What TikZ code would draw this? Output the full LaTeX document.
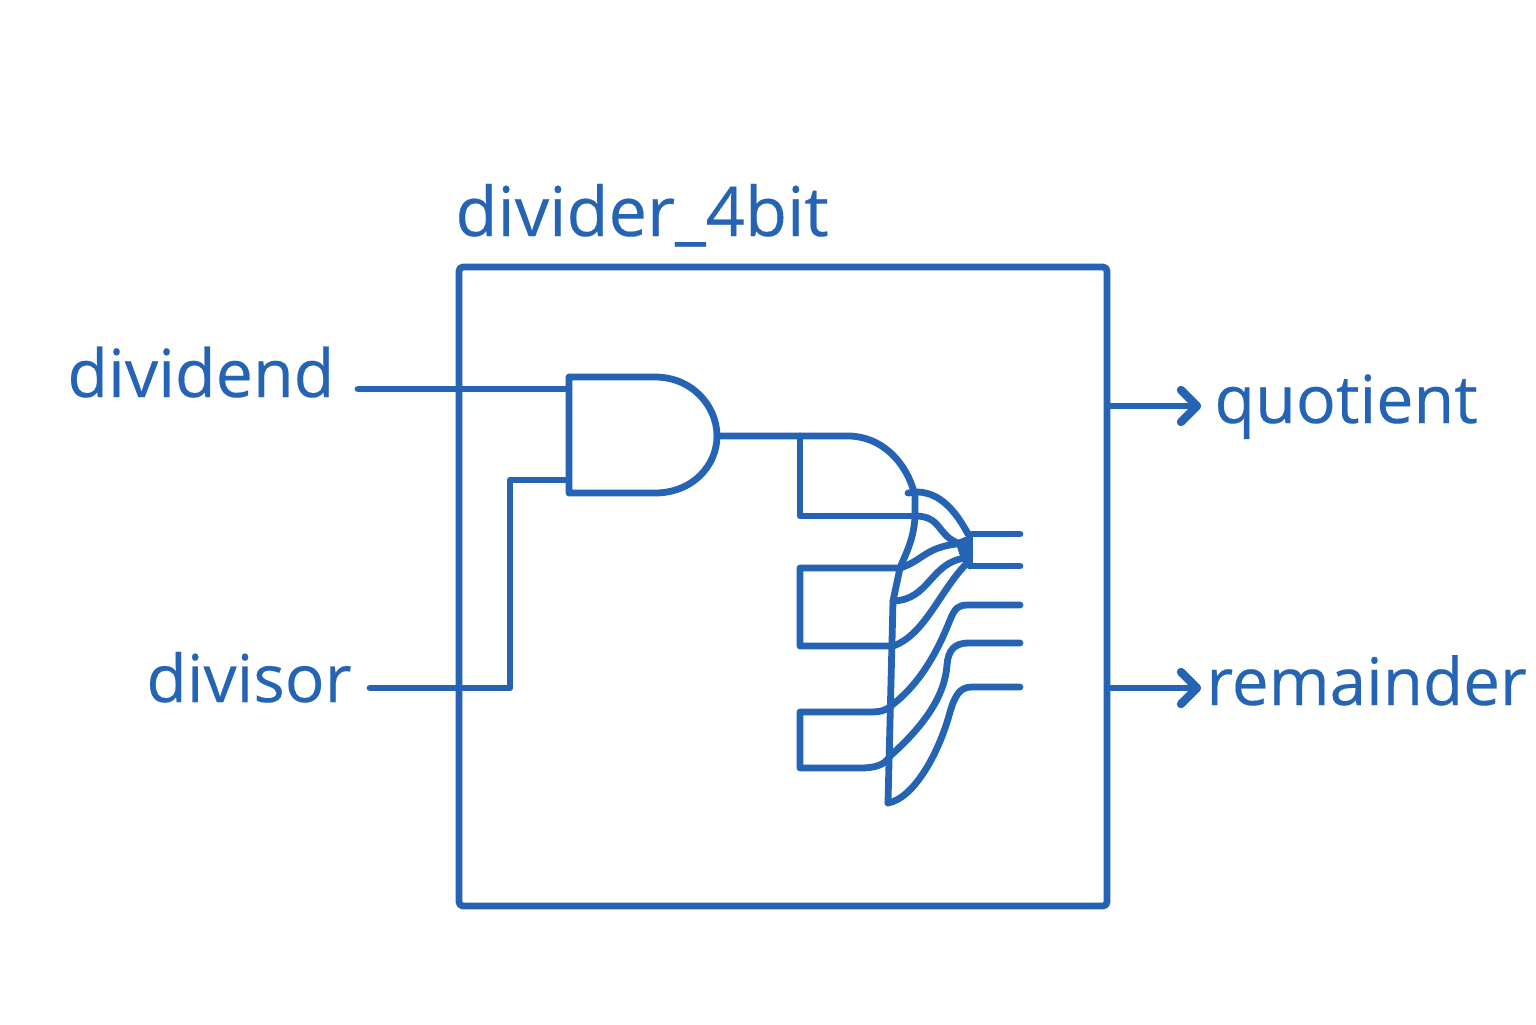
\documentclass[tikz,border=0pt]{standalone}
\usepackage{fontspec}
\setmainfont{Open Sans}
\definecolor{wire}{HTML}{2563B4}
\tikzset{
  wirep/.style={draw=wire,line width=3.4pt,line cap=round,line join=round},
  lab/.style={text=wire,font=\fontsize{33.2}{40}\selectfont\addfontfeature{FakeBold=0.25},inner sep=0pt,anchor=base west},
  headp/.style={wirep,line width=4.2pt}
}
\begin{document}
\begin{tikzpicture}[x=0.5pt,y=-0.5pt]
\useasboundingbox (0,0) rectangle (1536,1024);
\fill[white] (0,0) rectangle (1536,1024);
% labels
\node[lab,font=\fontsize{34.3}{40}\selectfont\addfontfeature{FakeBold=0.25}] (title) at (455,236) {divider\_4bit};
\node[lab] (dividend) at (67,397) {dividend};
\node[lab,font=\fontsize{33}{40}\selectfont\addfontfeature{FakeBold=0.25}] (divisor) at (146,702) {divisor};
\node[lab] (quotient) at (1214,423) {quotient};
\node[lab,font=\fontsize{32.8}{40}\selectfont\addfontfeature{FakeBold=0.25}] (remainder) at (1206,705) {remainder};
% module box
\draw[wirep,rounded corners=2pt] (459,267) rectangle (1107,906);
% coordinates
\coordinate (inA) at (358,389);
\coordinate (inB) at (370,688);
\coordinate (gA) at (569,389);
\coordinate (gB) at (569,480);
\coordinate (bend) at (510,688);
\coordinate (gOut) at (717,436);
\coordinate (j) at (800,436);
\coordinate (qS) at (1109,406);
\coordinate (qE) at (1197,406);
\coordinate (rS) at (1109,688);
\coordinate (rE) at (1197,688);
% inputs
\draw[wirep] (inA) -- (gA);
\draw[wirep] (inB) -- (bend) |- (gB);
% AND gate
\draw[wirep] (569,377) -- (655,377) .. controls (692,377) and (717,406) .. (gOut)
  .. controls (717,466) and (692,493) .. (655,493) -- (569,493) -- cycle;
% gate 2
\draw[wirep] (gOut) -- (j) -- (848,436) .. controls (880,436) and (905,460) .. (914,492);
\draw[wirep] (j) -- (800,516) -- (915,516);
\draw[wirep] (908,493) -- (918,492) .. controls (940,493) and (955,510) .. (968,534);
\draw[wirep] (915,492) -- (915,516) .. controls (914,540) and (905,555) .. (900,568) -- (893,601) -- (888,803);
\draw[wirep] (915,516) .. controls (945,516) and (935,540) .. (968,546);
\draw[wirep] (900,568) .. controls (925,560) and (925,545) .. (968,543);
\draw[wirep] (893,601) .. controls (930,600) and (930,562) .. (966,558);
% junction wedge
\fill[wire] (955,541) -- (970,535) -- (970,562) -- (960,556) -- cycle;
% rectangles
\draw[wirep] (900,568) -- (800,568) -- (800,646) -- (893,646) .. controls (925,635) and (940,590) .. (968,562);
\draw[wirep] (892,705) .. controls (886,711) and (880,712) .. (868,712) -- (800,712) -- (800,768) -- (860,768) .. controls (875,768) and (885,765) .. (890,756);
% outputs
\draw[wirep] (892,705) .. controls (925,680) and (942,640) .. (950,620) .. controls (955,608) and (958,605) .. (968,605) -- (1020,605);
\draw[wirep] (890,756) .. controls (925,725) and (945,695) .. (947,665) .. controls (948,650) and (955,643) .. (968,643) -- (1020,643);
\draw[wirep] (888,803) .. controls (915,798) and (940,750) .. (950,712) .. controls (955,695) and (960,687) .. (972,687) -- (1020,687);
\draw[wirep] (970,535) -- (970,566);
\draw[wirep] (970,534) -- (1020,534);
\draw[wirep] (970,566) -- (1020,566);
% output arrows
\draw[wirep] (qS) -- (qE);
\draw[headp] ([shift={(-16,-16)}]qE) -- (qE) -- ([shift={(-16,16)}]qE);
\draw[wirep] (rS) -- (rE);
\draw[headp] ([shift={(-16,-16)}]rE) -- (rE) -- ([shift={(-16,16)}]rE);
\end{tikzpicture}
\end{document}
